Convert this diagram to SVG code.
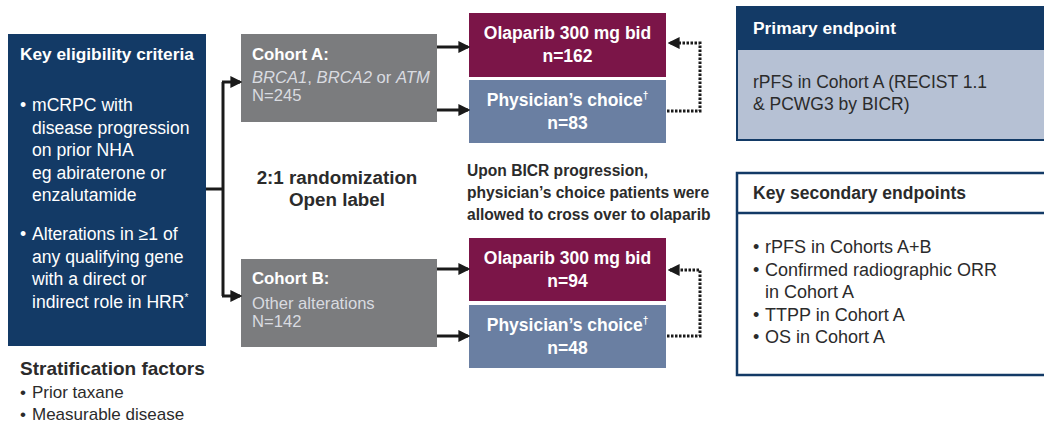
<svg xmlns="http://www.w3.org/2000/svg" width="1044" height="424" viewBox="0 0 1044 424">
<style>
text{font-family:"Liberation Sans",Arial,sans-serif}
.w{fill:#ffffff}
.b{font-weight:bold}
.lt{fill:#d9dbe0}
.dk{fill:#2b2b2b}
.ctr{text-anchor:middle}
.ln{stroke:#1a1a1a;stroke-width:3;fill:none}
.dot{stroke:#1a1a1a;stroke-width:3;fill:none;stroke-dasharray:2.5 1.5}
</style>
<defs>
<marker id="ah" markerWidth="4" markerHeight="4" refX="3.2" refY="2" orient="auto" markerUnits="strokeWidth">
<path d="M0,0 L4,2 L0,4 Z" fill="#1a1a1a"/>
</marker>
</defs>
<rect width="1044" height="424" fill="#ffffff"/>

<g id="eligibility">
<rect x="8" y="34" width="198" height="312" fill="#133a66"/>
<text x="20" y="60" class="w b" font-size="17.3">Key eligibility criteria</text>
<text class="w" font-size="17.6">
<tspan x="20" y="111">•</tspan><tspan x="32" y="111">mCRPC with</tspan>
<tspan x="32" y="133.5">disease progression</tspan>
<tspan x="32" y="156">on prior NHA</tspan>
<tspan x="32" y="178.5">eg abiraterone or</tspan>
<tspan x="32" y="201">enzalutamide</tspan>
<tspan x="20" y="240">•</tspan><tspan x="32" y="240">Alterations in ≥1 of</tspan>
<tspan x="32" y="262.5">any qualifying gene</tspan>
<tspan x="32" y="285">with a direct or</tspan>
<tspan x="32" y="307.5">indirect role in HRR<tspan font-size="10" dy="-7">*</tspan></tspan>
</text>
</g>

<g id="stratification">
<text x="20" y="375" class="dk b" font-size="19">Stratification factors</text>
<text class="dk" font-size="17">
<tspan x="20" y="398">•</tspan><tspan x="32" y="398">Prior taxane</tspan>
<tspan x="20" y="420">•</tspan><tspan x="32" y="420">Measurable disease</tspan>
</text>
</g>

<g id="cohortA">
<rect x="241" y="34" width="196" height="88" fill="#7b7c7e"/>
<text x="252" y="60" class="w b" font-size="16.8">Cohort A:</text>
<text x="252" y="83" class="lt" font-size="16.6"><tspan font-style="italic">BRCA1</tspan>, <tspan font-style="italic">BRCA2</tspan> or <tspan font-style="italic">ATM</tspan></text>
<text x="252" y="101" class="lt" font-size="16.6">N=245</text>
</g>

<g id="cohortB">
<rect x="241" y="259" width="196" height="88" fill="#7b7c7e"/>
<text x="252" y="284" class="w b" font-size="16.8">Cohort B:</text>
<text x="252" y="309" class="lt" font-size="16.6">Other alterations</text>
<text x="252" y="327" class="lt" font-size="16.6">N=142</text>
</g>

<g id="olaparibA">
<rect x="469" y="13" width="197" height="64" fill="#7b1548"/>
<text x="567.5" y="39" class="w b ctr" font-size="17.5">Olaparib 300 mg bid</text>
<text x="567.5" y="62" class="w b ctr" font-size="17.5">n=162</text>
</g>
<g id="physicianA">
<rect x="469" y="80" width="197" height="63" fill="#6a7fa2"/>
<text x="567.5" y="106" class="w b ctr" font-size="17.5">Physician’s choice<tspan font-size="10" dy="-7">†</tspan></text>
<text x="567.5" y="129" class="w b ctr" font-size="17.5">n=83</text>
</g>

<g id="olaparibB">
<rect x="469" y="238" width="197" height="63" fill="#7b1548"/>
<text x="567.5" y="264" class="w b ctr" font-size="17.5">Olaparib 300 mg bid</text>
<text x="567.5" y="287" class="w b ctr" font-size="17.5">n=94</text>
</g>
<g id="physicianB">
<rect x="469" y="305" width="197" height="63" fill="#6a7fa2"/>
<text x="567.5" y="331" class="w b ctr" font-size="17.5">Physician’s choice<tspan font-size="10" dy="-7">†</tspan></text>
<text x="567.5" y="354" class="w b ctr" font-size="17.5">n=48</text>
</g>

<g id="randomization">
<text x="337" y="184" class="dk b ctr" font-size="18.8">2:1 randomization</text>
<text x="337" y="206" class="dk b ctr" font-size="18.8">Open label</text>
</g>

<g id="crossover">
<text class="dk b" font-size="15.6">
<tspan x="467" y="176">Upon BICR progression,</tspan>
<tspan x="467" y="198">physician’s choice patients were</tspan>
<tspan x="467" y="220">allowed to cross over to olaparib</tspan>
</text>
</g>

<g id="primary">
<rect x="737" y="7" width="312" height="133" fill="#b6c1d4" stroke="#133a66" stroke-width="2"/>
<rect x="737" y="7" width="312" height="43" fill="#133a66"/>
<text x="753" y="34" class="w b" font-size="17.4">Primary endpoint</text>
<text x="753" y="88" class="dk" font-size="17.5">rPFS in Cohort A (RECIST 1.1</text>
<text x="753" y="110" class="dk" font-size="17.5">&amp; PCWG3 by BICR)</text>
</g>

<g id="secondary">
<rect x="737" y="173" width="312" height="202" fill="#ffffff" stroke="#133a66" stroke-width="2.5"/>
<line x1="737" y1="213" x2="1044" y2="213" stroke="#133a66" stroke-width="2.5"/>
<text x="753" y="199" class="dk b" font-size="17.5">Key secondary endpoints</text>
<text class="dk" font-size="18">
<tspan x="753" y="253">•</tspan><tspan x="765" y="253">rPFS in Cohorts A+B</tspan>
<tspan x="753" y="275.5">•</tspan><tspan x="765" y="275.5">Confirmed radiographic ORR</tspan>
<tspan x="765" y="298">in Cohort A</tspan>
<tspan x="753" y="320.5">•</tspan><tspan x="765" y="320.5">TTPP in Cohort A</tspan>
<tspan x="753" y="343">•</tspan><tspan x="765" y="343">OS in Cohort A</tspan>
</text>
</g>

<g id="connectors">
<path class="ln" d="M206,189 H223"/>
<path class="ln" d="M223,82 V296"/>
<path class="ln" d="M222,82 H240" marker-end="url(#ah)"/>
<path class="ln" d="M222,296 H240" marker-end="url(#ah)"/>
<path class="ln" d="M437,47 H468" marker-end="url(#ah)"/>
<path class="ln" d="M437,110 H468" marker-end="url(#ah)"/>
<path class="ln" d="M437,269 H468" marker-end="url(#ah)"/>
<path class="ln" d="M437,336 H468" marker-end="url(#ah)"/>
<path class="dot" d="M667,111 H700 V43 H670" marker-end="url(#ah)"/>
<path class="dot" d="M667,336 H700 V270 H670" marker-end="url(#ah)"/>
</g>
</svg>
